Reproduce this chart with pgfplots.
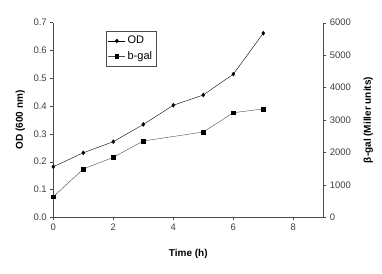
\documentclass[border=0pt]{standalone}
\usepackage{pgfplots}
\pgfplotsset{compat=1.18}
\usepackage{fontspec}
\setmainfont{Liberation Sans}
\begin{document}
\begin{tikzpicture}[x=1pt,y=1pt]
\pgfplotsset{
  every axis/.append style={
    scale only axis, width=270pt, height=194.6pt,
    xmin=0, xmax=9,
    /pgf/number format/assume math mode=true,
    tick label style={font=\fontsize{9.5}{11}\selectfont, text=black!75},
    label style={font=\fontsize{10}{12}\selectfont\bfseries},
    tick style={black!70, thin},
    axis line style={black!70, thin},
    tick align=outside,
    major tick length=3pt,
  }
}
\begin{axis}[
  axis x line*=bottom, axis y line*=left,
  ymin=0, ymax=0.7,
  ytick={0,0.1,...,0.7},
  xtick={0,2,4,6,8},
  yticklabel style={/pgf/number format/fixed, /pgf/number format/fixed zerofill, /pgf/number format/precision=1},
  xlabel={Time (h)}, ylabel={OD (600 nm)},
  xlabel style={at={(axis description cs:0.5,0)}, anchor=center, yshift=-37pt},
  ylabel style={at={(axis description cs:0,0.5)}, anchor=center, yshift=33pt},
  legend style={at={(rel axis cs:0.195,0.957)}, anchor=north west, draw=black!70, fill=white,
    font=\fontsize{11}{13}\selectfont, row sep=2pt, inner xsep=2pt, inner ysep=3pt},
  legend cell align=left,
]
\addplot[black, thin, mark=diamond*, mark size=2pt] coordinates {
  (0,0.182) (1,0.232) (2,0.272) (3,0.334) (4,0.403) (5,0.440) (6,0.515) (7,0.662)};
\addlegendentry{OD}
\addlegendimage{black!70, thin, mark=square*, mark options={black}, mark size=1.8pt}
\addlegendentry{b-gal}
\end{axis}
\begin{axis}[
  axis x line=none, axis y line*=right,
  ymin=0, ymax=6000,
  ytick={0,1000,...,6000},
  yticklabel style={/pgf/number format/1000 sep={}},
  ylabel={β-gal (Miller units)},
  ylabel style={at={(axis description cs:1,0.5)}, anchor=center, rotate=0, yshift=-45pt},
]
\addplot[black!70, thin, mark=square*, mark options={black}, mark size=1.8pt] coordinates {
  (0,635) (1,1489) (2,1850) (3,2353) (5,2630) (6,3225) (7,3340)};
\end{axis}
\path (-53.3,-55.7) rectangle (328.7,217.3);
\end{tikzpicture}
\end{document}
